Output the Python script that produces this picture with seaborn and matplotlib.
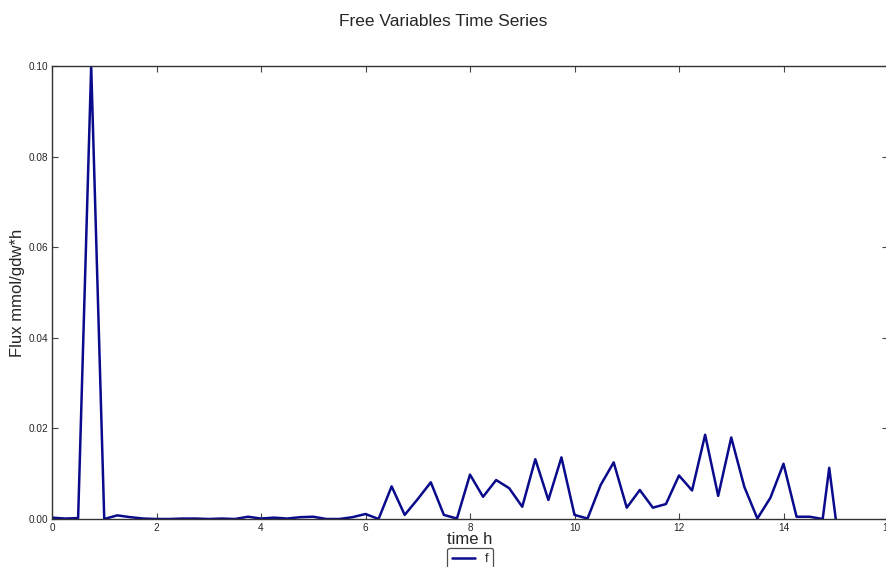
import numpy as np
import pandas as pd
import matplotlib
matplotlib.use("Agg")
import matplotlib.pyplot as plt
import seaborn as sns

time_h = [0.0, 0.25, 0.5, 0.75, 1.0, 1.25, 1.5, 1.75, 2.0, 2.25, 2.5, 2.75,
          3.0, 3.25, 3.5, 3.75, 4.0, 4.25, 4.5, 4.75, 5.0, 5.25, 5.5, 5.75,
          6.0, 6.25, 6.5, 6.75, 7.0, 7.25, 7.5, 7.75, 8.0, 8.25, 8.5, 8.75,
          9.0, 9.25, 9.5, 9.75, 10.0, 10.25, 10.5, 10.75, 11.0, 11.25, 11.5, 11.75,
          12.0, 12.25, 12.5, 12.75, 13.0, 13.25, 13.5, 13.75, 14.0, 14.25, 14.5, 14.75,
          14.875, 15.0]
flux_f = [0.0003, 0.0001, 0.0002, 0.1000, 0.0000, 0.0008, 0.0004, 0.0001, 0.0000, 0.0000, 0.0001, 0.0001,
          0.0000, 0.0001, 0.0000, 0.0005, 0.0001, 0.0003, 0.0001, 0.0004, 0.0005, 0.0000, 0.0000, 0.0004,
          0.0011, 0.0000, 0.0072, 0.0009, 0.0044, 0.0081, 0.0009, 0.0001, 0.0098, 0.0049, 0.0086, 0.0068,
          0.0027, 0.0132, 0.0042, 0.0136, 0.0009, 0.0001, 0.0075, 0.0125, 0.0025, 0.0064, 0.0025, 0.0033,
          0.0096, 0.0063, 0.0186, 0.0051, 0.0180, 0.0071, 0.0001, 0.0047, 0.0122, 0.0005, 0.0005, 0.0000,
          0.0113, 0.0000]
x_ticks = [0, 2, 4, 6, 8, 10, 12, 14, 16]
y_ticks = [0.00, 0.02, 0.04, 0.06, 0.08, 0.10]

sns.set_style("white")
plt.rcParams['font.family'] = ['Liberation Sans', 'DejaVu Sans']

df = pd.DataFrame({"time h": time_h, "f": flux_f})

fig = plt.figure(figsize=(8.86, 5.67), dpi=100)
ax = fig.add_axes([52/886, 48/567, 836/886, 453/567])
sns.lineplot(data=df, x="time h", y="f", ax=ax, color="#0a0a8c", linewidth=1.8, label="f")

ax.set_xlim(0, 16)
ax.set_ylim(0, 0.10)
ax.set_xticks(x_ticks)
ax.set_xticklabels([str(t) for t in x_ticks])
ax.set_yticks(y_ticks)
ax.set_yticklabels([f"{t:.2f}" for t in y_ticks])
ax.tick_params(direction="in", length=4, width=0.8, labelsize=7.2, color="#444444",
               top=True, right=True, bottom=True, left=True, pad=3)
for s in ax.spines.values():
    s.set_color("#333333")
    s.set_linewidth(1.0)
ax.set_xlabel("time h", fontsize=12, labelpad=-1)
ax.set_ylabel("Flux mmol/gdw*h", fontsize=12, labelpad=2)
fig.suptitle("Free Variables Time Series", fontsize=12.5, y=0.975)
leg = ax.legend(loc="upper center", bbox_to_anchor=(0.5, -0.064), fontsize=9,
                frameon=True, fancybox=True, handlelength=1.8, borderpad=0.4,
                borderaxespad=0)
leg.get_frame().set_edgecolor("#222222")
leg.get_frame().set_linewidth(0.9)

fig.savefig("out.png", dpi=100)
